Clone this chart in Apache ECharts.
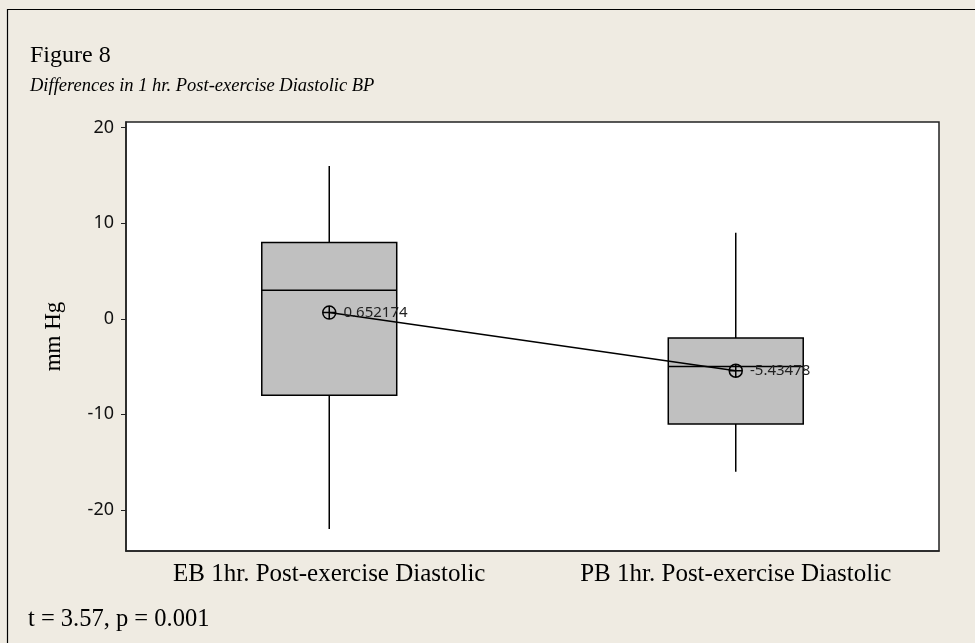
<!DOCTYPE html>
<html>
<head>
<meta charset="utf-8">
<script src="https://cdn.jsdelivr.net/npm/echarts@6/dist/echarts.min.js"></script>
<style>
	html, body { margin: 0; padding: 0; background: #EFEBE2; }
	#chart { width: 975px; height: 643px; }
</style>
</head>
<body>
<div id="chart"></div>
<script>
var categories = ['EB 1hr. Post-exercise Diastolic', 'PB 1hr. Post-exercise Diastolic'];
var whiskerLow = [-22, -16];
var q1 = [-8, -11];
var median = [3, -5];
var q3 = [8, -2];
var whiskerHigh = [16, 9];
var means = [0.652174, -5.43478];
var yTicks = [-20, -10, 0, 10, 20];

var boxData = categories.map(function (c, i) {
	return [i, whiskerLow[i], q1[i], median[i], q3[i], whiskerHigh[i]];
});

// box without whisker caps, like the original
function renderBox(params, api) {
	var idx = api.value(0);
	var lo = api.coord([idx, api.value(1)]);
	var b1 = api.coord([idx, api.value(2)]);
	var md = api.coord([idx, api.value(3)]);
	var b3 = api.coord([idx, api.value(4)]);
	var hi = api.coord([idx, api.value(5)]);
	var half = api.size([1, 0])[0] * 0.166;
	var line = { stroke: '#000', lineWidth: 1.5 };
	return {
		type: 'group',
		children: [
			{ type: 'line', shape: { x1: hi[0], y1: hi[1], x2: b3[0], y2: b3[1] }, style: line },
			{ type: 'line', shape: { x1: b1[0], y1: b1[1], x2: lo[0], y2: lo[1] }, style: line },
			{ type: 'rect', shape: { x: b3[0] - half, y: b3[1], width: half * 2, height: b1[1] - b3[1] },
				style: { fill: '#C0C0C0', stroke: '#000', lineWidth: 1.5 } },
			{ type: 'line', shape: { x1: md[0] - half, y1: md[1], x2: md[0] + half, y2: md[1] }, style: line }
		]
	};
}

var myChart = echarts.init(document.getElementById('chart'));
var option = {
	backgroundColor: '#EFEBE2',
	animation: false,
	grid: {
		show: true, backgroundColor: '#fff', borderColor: '#222', borderWidth: 1.5,
		left: 126, right: 36, top: 122, bottom: 92
	},
	xAxis: {
		type: 'category',
		data: categories,
		boundaryGap: true,
		axisLine: { onZero: false, lineStyle: { color: '#222', width: 1.5 } },
		axisTick: { alignWithLabel: true, length: 6, lineStyle: { color: '#222' } },
		axisLabel: { fontFamily: 'Liberation Serif', fontSize: 25, color: '#000', margin: 11 }
	},
	yAxis: {
		type: 'value',
		min: -24.3,
		max: 20.6,
		name: 'mm Hg',
		nameLocation: 'middle',
		nameGap: 61,
		nameTextStyle: { fontFamily: 'Liberation Serif', fontSize: 23, color: '#000' },
		axisLine: { show: true, lineStyle: { color: '#222', width: 1.5 } },
		axisTick: { show: true, length: 5, customValues: yTicks, lineStyle: { color: '#222' } },
		axisLabel: { customValues: yTicks, fontFamily: 'Noto Sans', fontSize: 18, color: '#111', margin: 12 },
		splitLine: { show: false }
	},
	graphic: [
		{ type: 'rect', shape: { x: 7.5, y: 9.5, width: 1200, height: 1200 },
			style: { fill: 'none', stroke: '#000', lineWidth: 1.2 }, silent: true },
		{ type: 'text', x: 30, y: 56,
			style: { text: 'Figure 8', fontFamily: 'Liberation Serif', fontSize: 24, fill: '#000', verticalAlign: 'middle' } },
		{ type: 'text', x: 30, y: 86,
			style: { text: 'Differences in 1 hr. Post-exercise Diastolic BP', fontFamily: 'Liberation Serif', fontStyle: 'italic', fontSize: 18.5, fill: '#000', verticalAlign: 'middle' } },
		{ type: 'text', x: 28, y: 620,
			style: { text: 't = 3.57, p = 0.001', fontFamily: 'Liberation Serif', fontSize: 24.5, fill: '#000', verticalAlign: 'middle' } }
	],
	series: [
		{
			type: 'custom',
			renderItem: renderBox,
			data: boxData,
			encode: { x: 0, y: [1, 2, 3, 4, 5] },
			z: 2
		},
		{
			type: 'line',
			data: means,
			z: 5,
			symbol: 'path://M0,-10A10,10,0,1,1,0,10A10,10,0,1,1,0,-10ZM-10,0L10,0M0,-10L0,10',
			symbolSize: 13,
			itemStyle: { color: 'rgba(0,0,0,0)', borderColor: '#000', borderWidth: 1.5 },
			lineStyle: { color: '#000', width: 1.5 },
			label: {
				show: true, position: 'right', distance: 7,
				fontFamily: 'Noto Sans', fontSize: 15, color: '#222',
				formatter: function (p) { return String(p.value); }
			}
		}
	]
};
myChart.setOption(option);
</script>
</body>
</html>
